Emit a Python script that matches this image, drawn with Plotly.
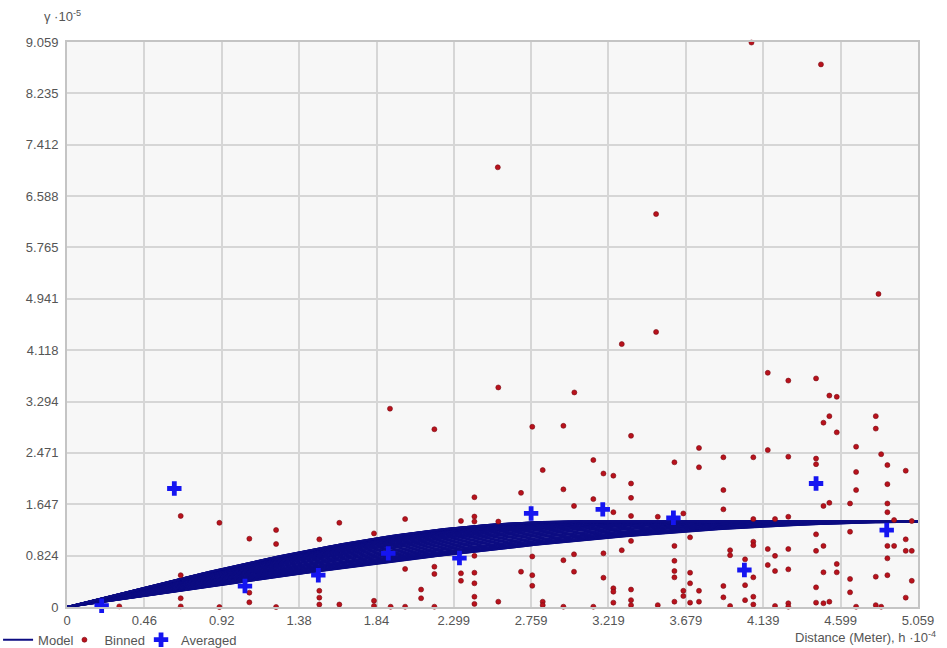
import numpy as np
import plotly.graph_objects as go

# ---- Semivariogram data (γ in 1e-5 units, distance in 1e-4 units) ----
x_ticks = [0, 0.46, 0.92, 1.38, 1.84, 2.299, 2.759, 3.219, 3.679, 4.139, 4.599, 5.059]
x_tick_labels = ["0", "0.46", "0.92", "1.38", "1.84", "2.299", "2.759", "3.219",
                 "3.679", "4.139", "4.599", "5.059"]
y_ticks = [0, 0.824, 1.647, 2.471, 3.294, 4.118, 4.941, 5.765, 6.588, 7.412, 8.235, 9.059]
y_tick_labels = ["0", "0.824", "1.647", "2.471", "3.294", "4.118", "4.941", "5.765",
                 "6.588", "7.412", "8.235", "9.059"]

# Binned empirical semivariance values
binned_x = [
    0.311, 0.676, 0.676, 0.676, 0.676, 0.906, 0.906, 1.084, 1.084, 1.084,
    1.243, 1.243, 1.243, 1.50, 1.50, 1.50, 1.50, 1.619, 1.619,
    1.825, 1.825, 1.825, 1.920, 1.924, 2.01, 2.01, 2.01, 2.105, 2.105,
    2.184, 2.184, 2.184, 2.184, 2.342, 2.342, 2.342, 2.422, 2.422, 2.422,
    2.422, 2.422, 2.422, 2.422, 2.422,
    2.561, 2.564, 2.564, 2.564, 2.699, 2.699, 2.766, 2.766, 2.766, 2.766,
    2.828, 2.828, 2.828, 2.951, 2.951, 2.951, 2.951, 3.014, 3.014, 3.014,
    3.016, 3.129, 3.129, 3.129, 3.189, 3.189, 3.189, 3.248, 3.248, 3.248,
    3.248, 3.248, 3.298, 3.298, 3.353, 3.353, 3.353, 3.353, 3.353, 3.353,
    3.353, 3.353, 3.502, 3.502,
    3.512, 3.512, 3.611, 3.611, 3.611, 3.611, 3.611, 3.611, 3.664, 3.664,
    3.664, 3.704, 3.704, 3.704, 3.704, 3.757, 3.757, 3.757, 3.757,
    3.902, 3.902, 3.902, 3.902, 3.902, 3.942, 3.942, 3.942, 4.031, 4.031,
    4.031, 4.069, 4.080, 4.080, 4.080, 4.080, 4.080, 4.080, 4.080, 4.166,
    4.166, 4.166, 4.166, 4.209, 4.209, 4.209, 4.209, 4.288, 4.288, 4.288,
    4.288, 4.288, 4.288, 4.288, 4.453, 4.453, 4.453, 4.453, 4.453, 4.453,
    4.453, 4.482, 4.497, 4.497, 4.497, 4.497, 4.497, 4.532, 4.532, 4.532,
    4.532, 4.576, 4.576, 4.576, 4.576, 4.655, 4.655, 4.655, 4.655, 4.691,
    4.691, 4.691, 4.691, 4.808, 4.808, 4.808, 4.808, 4.824, 4.840, 4.840,
    4.877, 4.877, 4.877, 4.877, 4.877, 4.877, 4.877, 4.917, 4.917, 4.986,
    4.986, 4.986, 4.986, 5.022, 5.022, 5.022,
]
binned_y = [
    0.01, 1.46, 0.51, 0.14, 0.01, 1.35, 0.0, 1.095, 0.23, 0.075,
    1.234, 1.01, 0.0, 1.085, 0.26, 0.15, 0.04, 1.35, 0.04,
    1.18, 0.10, 0.016, 3.18, 0.005, 1.41, 0.61, 0.005, 0.28, 0.14,
    2.85, 0.646, 0.53, 0.005, 1.38, 0.54, 0.42, 1.76, 1.45, 1.37,
    0.82, 0.55, 0.38, 0.165, 0.05,
    7.05, 3.52, 1.37, 0.085, 1.83, 0.566, 2.89, 0.81, 0.51, 0.34,
    2.195, 0.085, 0.03, 2.905, 1.886, 0.75, 0.005, 1.62, 0.845, 0.566,
    3.44, 2.356, 1.73, 0.005, 2.14, 0.86, 0.47, 2.105, 1.52, 0.30,
    0.245, 0.07, 4.215, 0.91, 2.745, 1.98, 1.75, 1.46, 1.06, 0.28,
    0.11, 0.03, 6.30, 4.41,
    1.447, 0.03, 2.32, 0.98, 0.74, 0.577, 0.475, 0.085, 1.50, 0.26,
    0.176, 1.117, 0.55, 0.38, 0.07, 2.55, 2.24, 0.26, 0.085,
    2.40, 1.875, 1.566, 0.337, 0.155, 0.91, 0.83, 0.016, 0.764, 0.35,
    0.11, 9.05, 2.40, 1.41, 1.047, 0.99, 0.475, 0.165, 0.04, 3.755,
    2.516, 0.93, 0.673, 1.41, 0.82, 0.577, 0.016, 3.63, 2.41, 1.447,
    0.93, 0.604, 0.06, 0.005, 3.665, 2.38, 2.29, 1.165, 0.90, 0.315,
    0.07, 8.70, 2.955, 1.62, 0.98, 0.556, 0.06, 3.39, 3.06, 1.67,
    0.085, 3.37, 2.80, 0.69, 0.556, 1.66, 1.207, 0.45, 0.235, 2.57,
    2.165, 1.875, 0.005, 3.06, 2.86, 0.486, 0.03, 5.02, 2.45, 0.005,
    2.275, 1.97, 1.66, 1.52, 0.98, 0.78, 0.51, 1.394, 0.98, 2.185,
    1.085, 0.90, 0.15, 1.378, 0.90, 0.42,
]

# Averaged semivariance per lag
averaged_x = [0.206, 0.638, 1.058, 1.494, 1.91, 2.333, 2.759, 3.185, 3.605, 4.027, 4.453, 4.873]
averaged_y = [0.02, 1.90, 0.336, 0.51, 0.86, 0.785, 1.50, 1.566, 1.43, 0.593, 1.98, 1.234]

# Fitted anisotropic spherical model
model_sill = 1.37
model_major_range = 5.2
model_minor_range = 3.0
model_directions_deg = list(range(0, 91, 3))

X_MAX = 5.059
Y_MAX = 9.059


def spherical(h, sill, rng):
    r = np.clip(h / rng, 0, 1)
    return sill * (1.5 * r - 0.5 * r ** 3)


h = np.linspace(0, X_MAX, 240)
mx, my = [], []
for ang in model_directions_deg:
    t = np.deg2rad(ang)
    rng = 1.0 / np.sqrt(np.cos(t) ** 2 / model_major_range ** 2
                        + np.sin(t) ** 2 / model_minor_range ** 2)
    mx.extend(h.tolist() + [None])
    my.extend(spherical(h, model_sill, rng).tolist() + [None])

NAVY = "#0c0c82"
RED = "#b8121c"
BLUE = "#1515f0"
TXT = "#555555"
FONT = "Liberation Sans, Arial, sans-serif"
FS = 13

fig = go.Figure()

fig.add_trace(go.Scatter(
    x=mx, y=my, mode="lines", name="Model",
    line=dict(color=NAVY, width=2.0),
    connectgaps=False, hoverinfo="skip", legend="legend",
))
fig.add_trace(go.Scatter(
    x=binned_x, y=binned_y, mode="markers", name="Binned",
    marker=dict(color=RED, size=5, line=dict(width=0.6, color="#7a0a12")),
    cliponaxis=False, legend="legend2",
))
fig.add_trace(go.Scatter(
    x=averaged_x, y=averaged_y, mode="markers", name="Averaged",
    marker=dict(color=BLUE, size=12, symbol="cross", line=dict(width=0)),
    cliponaxis=False, legend="legend3",
))

axis_common = dict(
    showgrid=True, gridcolor="#d6d6d6", gridwidth=1.5,
    zeroline=False, showline=True, mirror=True,
    linecolor="#c4c4c4", linewidth=2,
    ticks="", tickfont=dict(family=FONT, size=FS, color=TXT),
    fixedrange=True,
)

fig.update_xaxes(range=[0, X_MAX], tickmode="array",
                 tickvals=x_ticks, ticktext=x_tick_labels, **axis_common)
fig.update_yaxes(range=[0, Y_MAX], tickmode="array",
                 tickvals=y_ticks, ticktext=y_tick_labels,
                 ticklabelstandoff=4, **axis_common)

fig.add_annotation(
    xref="paper", yref="paper", x=-0.029, y=1.0, yshift=16,
    xanchor="left", yanchor="bottom", showarrow=False,
    text="γ ·10<sup>-5</sup>", font=dict(family=FONT, size=FS, color=TXT),
)
fig.add_annotation(
    xref="paper", yref="paper", x=1.024, y=0, yshift=-40,
    xanchor="right", yanchor="bottom", showarrow=False,
    text="Distance (Meter), h ·10<sup>-4</sup>",
    font=dict(family=FONT, size=FS, color=TXT),
)


def legend_box(x):
    return dict(
        orientation="h", x=x, xanchor="left", y=-0.058, yanchor="middle",
        bgcolor="rgba(0,0,0,0)", font=dict(family=FONT, size=FS, color=TXT),
        itemwidth=30, tracegroupgap=0,
    )


fig.update_layout(
    width=947, height=648,
    margin=dict(l=67, r=29, t=42, b=41, autoexpand=False),
    paper_bgcolor="white", plot_bgcolor="#f7f7f7",
    font=dict(family=FONT, size=FS, color=TXT),
    showlegend=True,
    legend=legend_box(-0.081),
    legend2=legend_box(-0.003),
    legend3=legend_box(0.087),
)

fig.write_html("out.html")
